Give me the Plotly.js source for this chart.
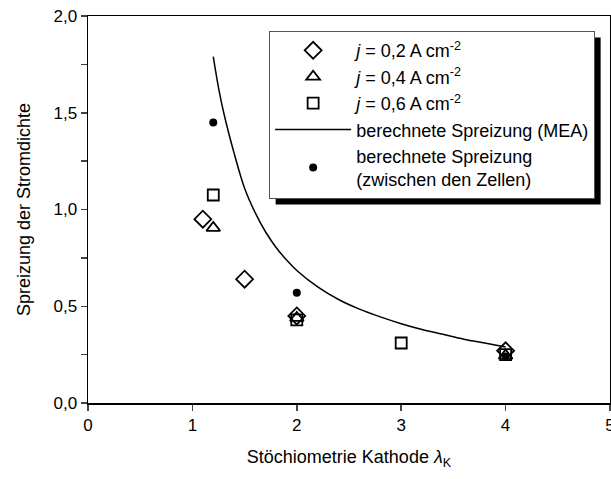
<!DOCTYPE html>
<html><head><meta charset="utf-8">
<script src="https://cdn.plot.ly/plotly-3.0.1.min.js"></script>
<style>body{margin:0;background:#fff}#c{width:611px;height:479px}</style>
</head><body><div id="c"></div>
<script>
// data
const x02 = [1.1, 1.5, 2.0, 4.0];
const y02 = [0.95, 0.64, 0.45, 0.27];
const x04 = [1.2, 2.0, 4.0];
const y04 = [0.905, 0.44, 0.245];
const x06 = [1.2, 2.0, 3.0, 4.0];
const y06 = [1.075, 0.43, 0.31, 0.25];
const xMEA = [1.2, 1.25, 1.3, 1.4, 1.5, 1.6, 1.7, 1.8, 1.9, 2.0, 2.2, 2.4, 2.6, 2.8, 3.0, 3.2, 3.4, 3.6, 3.8, 4.0];
const yMEA = [1.79, 1.63, 1.50, 1.29, 1.11, 0.985, 0.885, 0.805, 0.74, 0.685, 0.60, 0.535, 0.485, 0.445, 0.41, 0.38, 0.355, 0.33, 0.31, 0.29];
const xCell = [1.2, 2.0, 4.0];
const yCell = [1.45, 0.57, 0.24];
const yTickVals = [0, 0.25, 0.5, 0.75, 1.0, 1.25, 1.5, 1.75, 2.0];
const yTickText = ['0,0', '', '0,5', '', '1,0', '', '1,5', '', '2,0'];
const xTickVals = [0, 1, 2, 3, 4, 5];
const names = ['<i>j</i> = 0,2 A cm<sup>-2</sup>', '<i>j</i> = 0,4 A cm<sup>-2</sup>', '<i>j</i> = 0,6 A cm<sup>-2</sup>',
  'berechnete Spreizung (MEA)', 'berechnete Spreizung<br>(zwischen den Zellen)'];

const mk = (sym, sz) => ({symbol: sym, size: sz, color: '#000', line: {color: '#000', width: 1.8}});
const traces = [
  {x: x02, y: y02, mode: 'markers', name: names[0], marker: mk('diamond-open', 13)},
  {x: x04, y: y04, mode: 'markers', name: names[1], marker: mk('triangle-up-open', 12)},
  {x: x06, y: y06, mode: 'markers', name: names[2], marker: mk('square-open', 11)},
  {x: xMEA, y: yMEA, mode: 'lines', name: names[3], line: {color: '#000', width: 1.5, shape: 'spline'}},
  {x: xCell, y: yCell, mode: 'markers', name: names[4], marker: {symbol: 'circle', size: 8, color: '#000'}}
];
const fam = 'Liberation Sans, Arial, sans-serif';
const fnt = {family: fam, size: 17, color: '#000'};
const L = 88, T = 16, PW = 522, PH = 387, SH = 6;
const layout = {
  width: 611, height: 479,
  margin: {l: L, r: 1, t: T, b: 76},
  paper_bgcolor: '#fff', plot_bgcolor: '#fff',
  font: fnt,
  showlegend: true,
  xaxis: {range: [0, 5], tickmode: 'array', tickvals: xTickVals, ticks: 'outside', ticklen: 6, tickwidth: 1.5,
    showline: true, linewidth: 1.5, linecolor: '#000', mirror: true, showgrid: false, zeroline: false,
    tickfont: fnt, ticklabeloverflow: 'allow',
    title: {text: 'Stöchiometrie Kathode <i>λ</i><sub>K</sub>', font: {family: fam, size: 18}, standoff: 16}},
  yaxis: {range: [0, 2], tickmode: 'array', tickvals: yTickVals, ticktext: yTickText, ticks: 'outside', ticklen: 6, tickwidth: 1.5,
    showline: true, linewidth: 1.5, linecolor: '#000', mirror: true, showgrid: false, zeroline: false,
    tickfont: fnt,
    title: {text: 'Spreizung der Stromdichte', font: {family: fam, size: 18}, standoff: 18}},
  legend: {x: 0.347, y: 0.961, xanchor: 'left', yanchor: 'top', bgcolor: '#fff',
    bordercolor: '#555', borderwidth: 1, font: {family: fam, size: 18, color: '#000'}, tracegroupgap: 0, itemwidth: 76}
};
Plotly.newPlot('c', traces, layout, {displayModeBar: false, staticPlot: true}).then(gd => {
  // legend drop shadow, offset from the rendered legend box
  const bg = gd.querySelector('.legend .bg');
  if (!bg) return;
  const r = bg.getBoundingClientRect();
  const g = gd.getBoundingClientRect();
  const x0 = r.left - g.left + SH, x1 = r.right - g.left + SH;
  const y0 = r.top - g.top + SH, y1 = r.bottom - g.top + SH;
  return Plotly.relayout(gd, {shapes: [{type: 'rect', xref: 'paper', yref: 'paper',
    x0: (x0 - L) / PW, x1: (x1 - L) / PW, y0: 1 - (y1 - T) / PH, y1: 1 - (y0 - T) / PH,
    fillcolor: '#000', line: {width: 0}, layer: 'above'}]});
});
</script></body></html>
